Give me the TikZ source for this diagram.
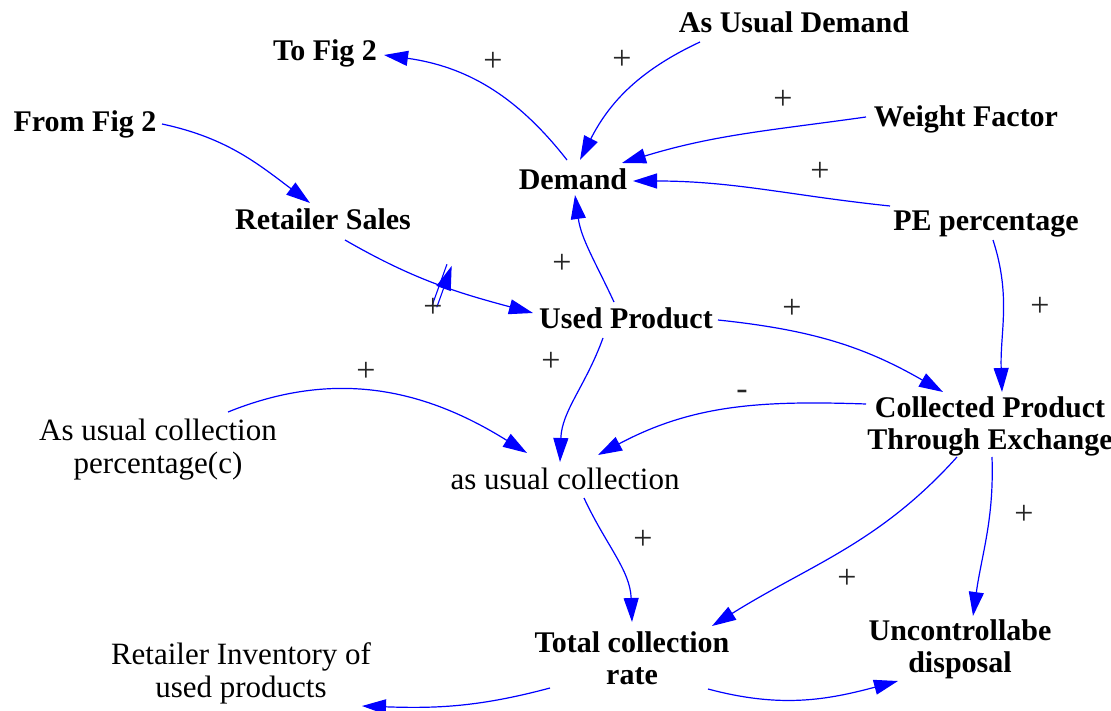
\documentclass[tikz,border=0pt]{standalone}
\usepackage{fontspec}
\setmainfont{Liberation Serif}
\usetikzlibrary{arrows.meta,decorations.markings}
\definecolor{lnk}{RGB}{0,0,255}
\begin{document}
\begin{tikzpicture}[x=1pt,y=1pt,
  vb/.style={anchor=base, align=center, inner sep=3pt, font=\fontsize{30}{32}\selectfont\bfseries},
  vr/.style={anchor=base, align=center, inner sep=3pt, font=\fontsize{31}{33}\selectfont},
  link/.style={draw=lnk, line width=1.2pt, -{Triangle[length=24pt,width=15pt]}},
  pol/.style={font=\fontsize{34}{34}\selectfont, inner sep=0pt, text=black!85}]
\path[use as bounding box] (0,0) rectangle (1111,-711);

% variables (base = baseline of the last line)
\node[vb] (tofig) at (325,-61) {To Fig 2};
\node[vb] (asud) at (794,-33) {As Usual Demand};
\node[vb] (weight) at (966,-127) {Weight Factor};
\node[vb] (demand) at (573,-190) {Demand};
\node[vb] (pe) at (986,-231) {PE percentage};
\node[vb] (fromfig) at (85,-132) {From Fig 2};
\node[vb] (retsales) at (323,-230) {Retailer Sales};
\node[vb] (used) at (626,-328) {Used Product};
\node[vb] (coll) at (990,-449) {Collected Product\\Through Exchange};
\node[vr] (aucp) at (158,-473) {As usual collection\\percentage(c)};
\node[vr] (auc) at (565,-489) {as usual collection};
\node[vb] (total) at (632,-684) {Total collection\\rate};
\node[vb] (unc) at (960,-672) {Uncontrollabe\\disposal};
\node[vr] (retinv) at (241,-697) {Retailer Inventory of\\used products};

% links
\draw[link] ([shift={(-6,30)}]demand.base) to[out=128,in=-8] ([shift={(59,6)}]tofig.base);
\draw[link] ([shift={(-94,-9)}]asud.base) to[out=205,in=63] ([shift={(7,30)}]demand.base);
\draw[link] ([shift={(-100,10)}]weight.base) to[out=188,in=17] ([shift={(49,27)}]demand.base);
\draw[link] ([shift={(-96,25)}]pe.base) to[out=174,in=0] ([shift={(60,9)}]demand.base);
\draw[link] ([shift={(7,-9)}]pe.base) to[out=-72,in=92] ([shift={(12,57)}]coll.base);
\draw[link] ([shift={(77,8)}]fromfig.base) to[out=-12,in=143] ([shift={(-13,27)}]retsales.base);
\draw[link, postaction={decorate, decoration={markings,
    mark=at position 0.53 with {\draw[draw=lnk, line width=1.1pt] (-2.5,-22) -- (-2.5,22) (2.5,-22) -- (2.5,22);}}}]
  ([shift={(22,-10)}]retsales.base) to[out=-30,in=165] ([shift={(-93,15)}]used.base);
\draw[link] ([shift={(-12,26)}]used.base) to[out=115,in=-82] ([shift={(2,-5)}]demand.base);
\draw[link] ([shift={(92,8)}]used.base) to[out=-6,in=150] ([shift={(-47,57)}]coll.base);
\draw[link] ([shift={(-23,-10)}]used.base) to[out=-110,in=88] ([shift={(-5,27)}]auc.base);
\draw[link] ([shift={(70,61)}]aucp.base) to[out=22,in=148] ([shift={(-38,36)}]auc.base);
\draw[link] ([shift={(-124,45)}]coll.base) to[out=178,in=28] ([shift={(33,34)}]auc.base);
\draw[link] ([shift={(19,-9)}]auc.base) to[out=-65,in=92] ([shift={(0,62)}]total.base);
\draw[link] ([shift={(-33,-8)}]coll.base) to[out=228,in=32] ([shift={(80,58)}]total.base);
\draw[link] ([shift={(2,-8)}]coll.base) to[out=-88,in=82] ([shift={(13,56)}]unc.base);
\draw[link] ([shift={(-82,-4)}]total.base) to[out=195,in=-2] ([shift={(121,-9)}]retinv.base);
\draw[link] ([shift={(76,-5)}]total.base) to[out=-15,in=195] ([shift={(-62,-9)}]unc.base);

% polarities
\node[pol] (s1) at (493,-62) {+};
\node[pol] (s2) at (622,-60) {+};
\node[pol] (s3) at (783,-100) {+};
\node[pol] (s4) at (820,-172) {+};
\node[pol] (s5) at (1040,-307) {+};
\node[pol] (s6) at (433,-308) {+};
\node[pol] (s7) at (562,-264) {+};
\node[pol] (s8) at (792,-309) {+};
\node[pol] (s9) at (551,-362) {+};
\node[pol] (s10) at (366,-372) {+};
\node[pol] (s11) at (742,-395) {-};
\node[pol] (s12) at (643,-540) {+};
\node[pol] (s13) at (847,-579) {+};
\node[pol] (s14) at (1024,-515) {+};
\end{tikzpicture}
\end{document}
